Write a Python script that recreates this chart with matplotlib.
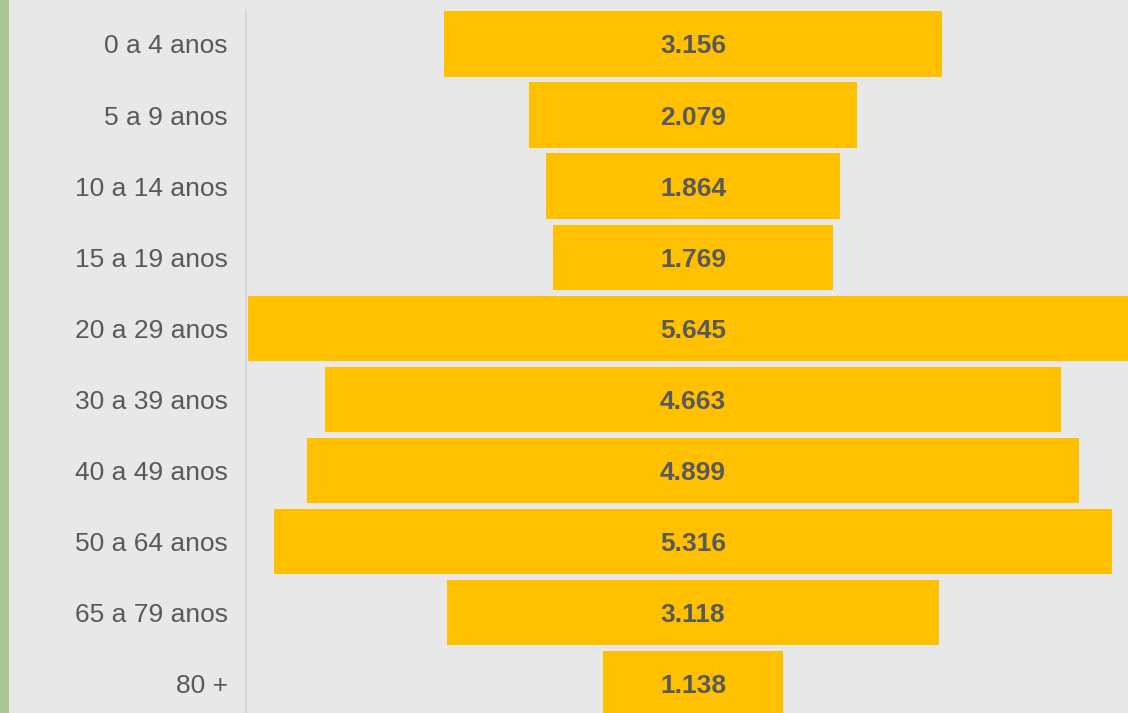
import matplotlib
matplotlib.use("Agg")
import matplotlib.pyplot as plt
from matplotlib.patches import Rectangle

plt.rcParams['font.family'] = ['Liberation Sans', 'DejaVu Sans']

faixas = ['0 a 4 anos', '5 a 9 anos', '10 a 14 anos', '15 a 19 anos', '20 a 29 anos',
          '30 a 39 anos', '40 a 49 anos', '50 a 64 anos', '65 a 79 anos', '80 +']
valores = [3.156, 2.079, 1.864, 1.769, 5.645, 4.663, 4.899, 5.316, 3.118, 1.138]
rotulos = ['3.156', '2.079', '1.864', '1.769', '5.645', '4.663', '4.899', '5.316', '3.118', '1.138']

W, H = 1128, 713
fig = plt.figure(figsize=(W / 100, H / 100), dpi=100)
fig.patch.set_facecolor('#e8e8e8')
# green strip at the left edge
fig.patches.append(Rectangle((0, 0), 9 / W, 1, transform=fig.transFigure,
                             facecolor='#a9c994', edgecolor='none'))

ax = fig.add_axes([246 / W, 0, 1 - 246 / W, (713 - 10) / H])
ax.set_facecolor('none')

ys = range(len(valores))
lefts = [-v / 2 for v in valores]
ax.barh(ys, valores, left=lefts, height=0.92, color='#FFC000', edgecolor='none')

for y, txt in zip(ys, rotulos):
    ax.text(0, y + 0.035, txt, ha='center', va='center', fontsize=19,
            fontweight='bold', color='#595959')

ax.set_xlim(-2.833, 2.757)
ax.set_ylim(9.41, -0.478)
ax.set_yticks(list(ys))
ax.set_yticklabels(faixas, fontsize=19, color='#595959')
ax.tick_params(axis='y', length=0, pad=13)
ax.set_xticks([])
for s in ['top', 'right', 'bottom']:
    ax.spines[s].set_visible(False)
ax.spines['left'].set_color('#d4d4d4')
ax.spines['left'].set_linewidth(1.2)

fig.savefig('out.png', dpi=100, facecolor=fig.get_facecolor())
